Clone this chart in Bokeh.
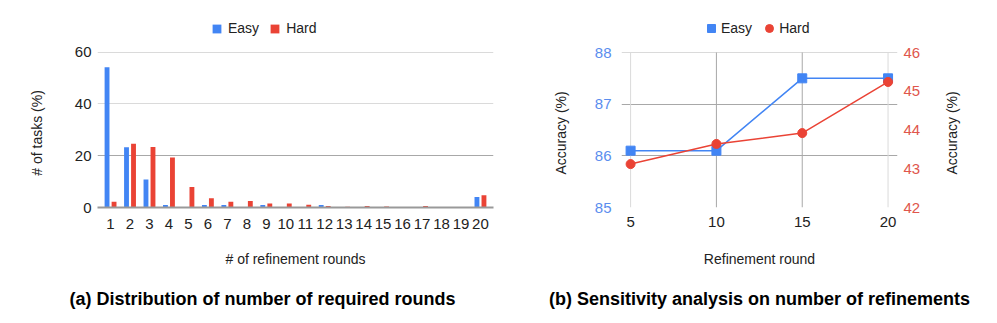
import math
from bokeh.plotting import figure
from bokeh.models import (FactorRange, Range1d, LinearAxis, FixedTicker, Grid, Legend,
                          LegendItem, ColumnDataSource)
from bokeh.core.properties import value
from bokeh.transform import dodge
from bokeh.layouts import row, column
from bokeh.embed import file_html
from bokeh.resources import INLINE

# ---------------- data ----------------
rounds = ["1", "2", "3", "4", "5", "6", "7", "8", "9", "10",
          "11", "12", "13", "14", "15", "16", "17", "18", "19", "20"]
easy_pct = [54.1, 23.3, 10.8, 1.0, 0.0, 1.0, 1.0, 0.0, 1.0, 0.0,
            0.0, 1.0, 0.0, 0.0, 0.0, 0.0, 0.0, 0.0, 0.0, 4.1]
hard_pct = [2.2, 24.6, 23.4, 19.3, 7.9, 3.6, 2.2, 2.5, 1.5, 1.5,
            1.1, 0.6, 0.3, 0.6, 0.4, 0.2, 0.6, 0.2, 0.2, 4.7]
left_yticks = [0, 20, 40, 60]

refine_rounds = [5, 10, 15, 20]
easy_acc = [86.1, 86.1, 87.5, 87.5]
hard_acc = [43.12, 43.64, 43.92, 45.24]
easy_ticks = [85, 86, 87, 88]
hard_ticks = [42, 43, 44, 45, 46]

captions = ["(a) Distribution of number of required rounds",
            "(b) Sensitivity analysis on number of refinements"]

BLUE = "#4285f4"
RED = "#ea4335"
BLUE_TXT = "#5a8dee"
RED_TXT = "#e0564c"
TXT = "#222222"
LIGHT = "#dadada"
MED = "#a8a8a8"
FONT = "Liberation Sans"

ROW_H = 280       # height of the chart row
TOP = 10          # top border (px); legend lives in the frame headroom above the data area
HEAD = 42         # headroom (px) above the top tick inside the frame


def headroom_end(lo, hi, data_px):
    """range end so that `hi` sits HEAD px below the frame top"""
    return hi + HEAD * (hi - lo) / data_px


def style_axis(ax, label_color=TXT):
    ax.axis_line_color = None
    ax.major_tick_line_color = None
    ax.minor_tick_line_color = None
    ax.major_tick_out = 0
    ax.minor_tick_out = 0
    ax.major_label_text_font = FONT
    ax.major_label_text_font_size = "15px"
    ax.major_label_text_color = label_color
    ax.axis_label_text_font = FONT
    ax.axis_label_text_font_size = "14px"
    ax.axis_label_text_font_style = "normal"
    ax.axis_label_text_color = TXT


def text_panel(width, height, texts, xs, ys, size, style="normal", angle=0.0):
    """a bare figure that only carries text (axis titles / captions)"""
    f = figure(width=width, height=height, output_backend="svg", toolbar_location=None,
               x_range=Range1d(0, width), y_range=Range1d(0, height),
               x_axis_location=None, y_axis_location=None,
               min_border_left=0, min_border_right=0, min_border_top=0, min_border_bottom=0)
    f.outline_line_color = None
    f.xgrid.grid_line_color = None
    f.ygrid.grid_line_color = None
    f.text(x=xs, y=ys, text=texts, angle=angle, text_align="center", text_baseline="middle",
           text_font=value(FONT), text_font_size=value(size), text_font_style=style,
           text_color=TXT if style == "normal" else "#000000")
    return f


# ---------------- left chart ----------------
P1_DATA_PX = 157
src = ColumnDataSource(dict(r=rounds, easy=easy_pct, hard=hard_pct))
p1 = figure(width=478, height=ROW_H, output_backend="svg", toolbar_location=None,
            x_range=FactorRange(*rounds, range_padding=0.017, range_padding_units="percent"),
            y_range=Range1d(left_yticks[0], headroom_end(left_yticks[0], left_yticks[-1], P1_DATA_PX)),
            min_border_left=47, min_border_right=35, min_border_top=TOP, min_border_bottom=71,
            title_location=None)
p1.outline_line_color = None
eb = p1.vbar(x=dodge("r", -0.18, range=p1.x_range), top="easy", width=0.25, source=src,
             color=BLUE, line_color=None)
hb = p1.vbar(x=dodge("r", 0.18, range=p1.x_range), top="hard", width=0.25, source=src,
             color=RED, line_color=None)

p1.xgrid.grid_line_color = None
p1.ygrid.ticker = FixedTicker(ticks=[40, 60])
p1.ygrid.grid_line_color = LIGHT
p1.add_layout(Grid(dimension=1, ticker=FixedTicker(ticks=[20]), grid_line_color=MED))

style_axis(p1.xaxis[0])
style_axis(p1.yaxis[0])
p1.yaxis.ticker = FixedTicker(ticks=left_yticks)
p1.yaxis.major_label_standoff = 6
p1.xaxis.axis_label = "# of refinement rounds"
p1.xaxis.axis_line_color = "#999999"
p1.xaxis.axis_line_width = 2
p1.xaxis.major_label_standoff = 11
p1.xaxis.axis_label_standoff = 19

leg1 = Legend(items=[LegendItem(label="Easy", renderers=[eb]),
                     LegendItem(label="Hard", renderers=[hb])],
              orientation="horizontal", location=(114, 171),
              glyph_width=11, glyph_height=11, label_standoff=6, spacing=10,
              padding=0, margin=0, border_line_color=None, background_fill_alpha=0,
              label_text_font=FONT, label_text_font_size="14px", label_text_color=TXT)
p1.add_layout(leg1, "center")

# ---------------- right chart ----------------
P2_DATA_PX = 155
p2 = figure(width=343, height=ROW_H, output_backend="svg", toolbar_location=None,
            x_range=Range1d(4.47, 20.55),
            y_range=Range1d(easy_ticks[0], headroom_end(easy_ticks[0], easy_ticks[-1], P2_DATA_PX)),
            min_border_left=36, min_border_right=31, min_border_top=TOP, min_border_bottom=73,
            title_location=None)
p2.outline_line_color = None
p2.extra_y_ranges = {"hard": Range1d(hard_ticks[0],
                                     headroom_end(hard_ticks[0], hard_ticks[-1], P2_DATA_PX))}

# vertical grid lines, limited to the data area
p2.xgrid.grid_line_color = None
vg_light = [5, 20]
vg_med = [10, 15]
p2.segment(x0=vg_light, x1=vg_light, y0=[easy_ticks[0]] * 2, y1=[easy_ticks[-1]] * 2,
           line_color=LIGHT, line_width=1)
p2.segment(x0=vg_med, x1=vg_med, y0=[easy_ticks[0]] * 2, y1=[easy_ticks[-1]] * 2,
           line_color=MED, line_width=1)
p2.ygrid.ticker = FixedTicker(ticks=[86, 87])
p2.ygrid.grid_line_color = MED
p2.add_layout(Grid(dimension=1, ticker=FixedTicker(ticks=[85, 88]), grid_line_color=LIGHT))

p2.line(refine_rounds, easy_acc, color=BLUE, line_width=1.5)
es = p2.scatter(refine_rounds, easy_acc, marker="square", size=9, color=BLUE)
p2.line(refine_rounds, hard_acc, color=RED, line_width=1.5, y_range_name="hard")
hs = p2.scatter(refine_rounds, hard_acc, marker="circle", size=9, color=RED, y_range_name="hard")

style_axis(p2.xaxis[0])
p2.xaxis.ticker = FixedTicker(ticks=refine_rounds)
p2.xaxis.axis_label = "Refinement round"
p2.xaxis.major_label_standoff = 9
p2.xaxis.axis_label_standoff = 21

style_axis(p2.yaxis[0], BLUE_TXT)
p2.yaxis.ticker = FixedTicker(ticks=easy_ticks)
p2.yaxis.major_label_standoff = 10

ra = LinearAxis(y_range_name="hard", ticker=FixedTicker(ticks=hard_ticks))
style_axis(ra, RED_TXT)
ra.major_label_standoff = 6
p2.add_layout(ra, "right")

leg2 = Legend(items=[LegendItem(label="Easy", renderers=[es]),
                     LegendItem(label="Hard", renderers=[hs])],
              orientation="horizontal", location=(80, 169),
              glyph_width=20, glyph_height=20, label_standoff=0, spacing=7,
              padding=0, margin=0, border_line_color=None, background_fill_alpha=0,
              label_text_font=FONT, label_text_font_size="14px", label_text_color=TXT)
p2.add_layout(leg2, "center")

# ---------------- y-axis titles (rotated, reading bottom to top) ----------------
LAB_Y = ROW_H - 174
ylab1 = text_panel(50, ROW_H, ["# of tasks (%)"], [36], [LAB_Y], "14px", angle=math.pi / 2)
ylab2 = text_panel(57, ROW_H, ["Accuracy (%)"], [32], [LAB_Y], "14px", angle=math.pi / 2)
ylab3 = text_panel(61, ROW_H, ["Accuracy (%)"], [23], [LAB_Y], "14px", angle=math.pi / 2)

# ---------------- captions ----------------
cap = text_panel(989, 40, captions, [262, 759], [22, 22], "18px", style="bold")

layout = column(row(ylab1, p1, ylab2, p2, ylab3, spacing=0), cap, spacing=0)
open("out.html", "w").write(file_html(layout, INLINE))
